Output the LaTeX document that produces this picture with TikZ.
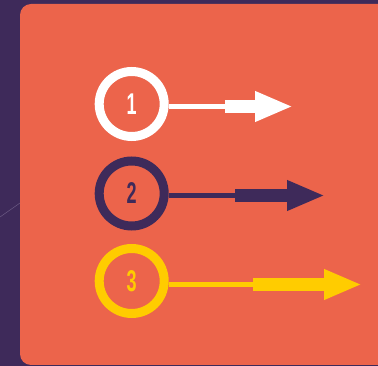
\documentclass[tikz,border=0pt]{standalone}
\usepackage{fontspec}
\setmainfont{Liberation Sans}
\usetikzlibrary{arrows.meta}
\definecolor{bgpurple}{HTML}{3E2A5A}
\definecolor{panelorange}{HTML}{EC644B}
\definecolor{ringyellow}{HTML}{FFCC00}
\definecolor{faintline}{HTML}{8A7AA0}
\tikzset{
  ring/.style={circle, draw=#1, line width=9pt, minimum size=65pt, inner sep=0pt,
    text=#1, font=\fontsize{30}{30}\selectfont\bfseries},
  thinlink/.style={draw=#1, line width=4.5pt},
  thicklink/.style={draw=#1, line width=12.5pt, -{Triangle[length=38pt, width=28pt, fill=#1]}}
}
\newcommand{\narrowdigit}[1]{\scalebox{0.6}[1]{#1}}
\begin{document}
\begin{tikzpicture}[x=1pt, y=-1pt]
  \useasboundingbox (0,0) rectangle (378,366);
  \fill[bgpurple] (0,0) rectangle (378,366);
  \fill[panelorange, rounded corners=11pt] (20,4) rectangle (420,365);
  \draw[faintline, line width=0.5pt, opacity=0.6] (0,217) -- (20,203);

  % row 1
  \node[ring=white] (c1) at (131.7,104) {\narrowdigit{1}};
  \coordinate (a1s) at (225,106.5);
  \coordinate (a1e) at (293,106.5);
  \draw[thinlink=white] (c1.east |- a1s) -- (a1s);
  \draw[thicklink=white] (a1s) -- (a1e);

  % row 2
  \node[ring=bgpurple] (c2) at (131.7,193.5) {\narrowdigit{2}};
  \coordinate (a2s) at (235,195.5);
  \coordinate (a2e) at (325,195.5);
  \draw[thinlink=bgpurple] (c2.east |- a2s) -- (a2s);
  \draw[thicklink=bgpurple] (a2s) -- (a2e);

  % row 3
  \node[ring=ringyellow] (c3) at (131.7,281) {\narrowdigit{3}};
  \coordinate (a3s) at (253,284.5);
  \coordinate (a3e) at (362,284.5);
  \draw[thinlink=ringyellow] (c3.east |- a3s) -- (a3s);
  \draw[thicklink=ringyellow] (a3s) -- (a3e);
\end{tikzpicture}
\end{document}
